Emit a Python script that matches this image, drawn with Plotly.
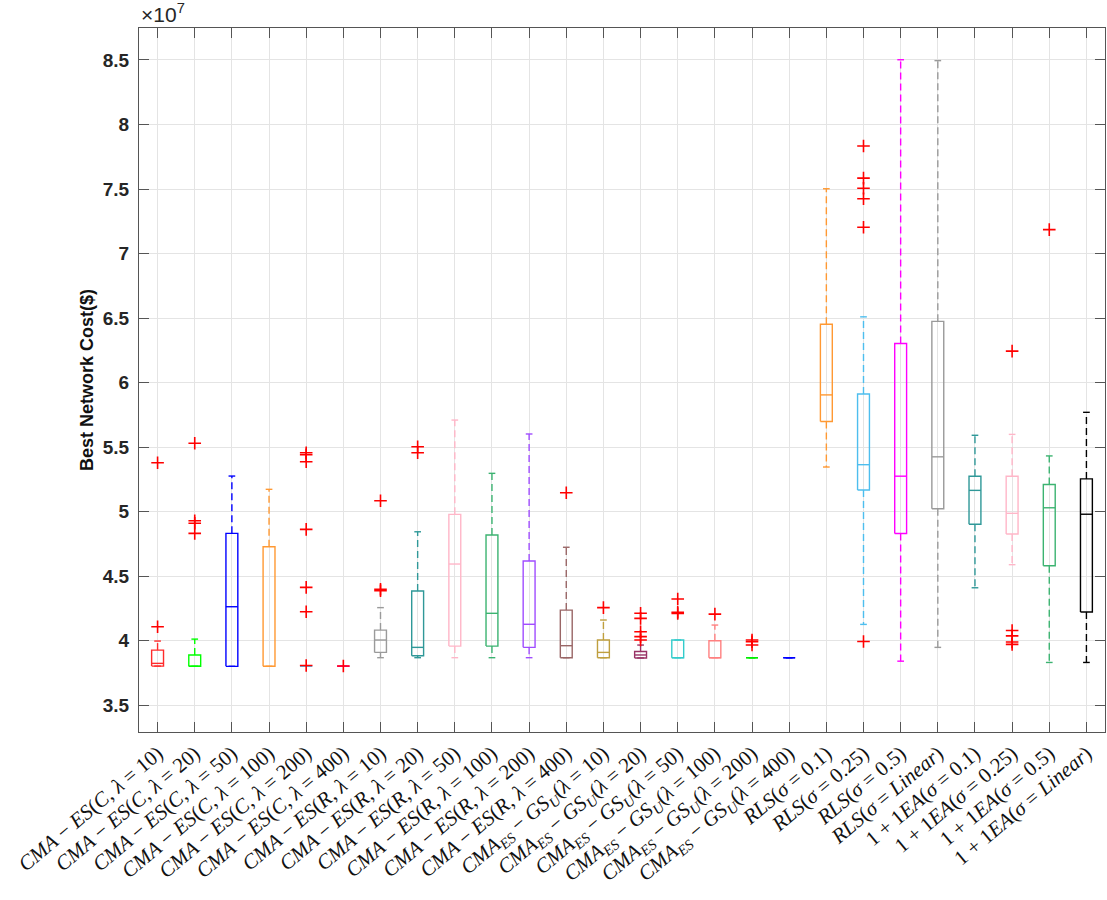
import plotly.graph_objects as go

# ---------------- data (values in units of 1e7 $) ----------------
labels = [
    "<i>CMA</i> − <i>ES</i>(<i>C</i>, <i>λ</i> = 10)",
    "<i>CMA</i> − <i>ES</i>(<i>C</i>, <i>λ</i> = 20)",
    "<i>CMA</i> − <i>ES</i>(<i>C</i>, <i>λ</i> = 50)",
    "<i>CMA</i> − <i>ES</i>(<i>C</i>, <i>λ</i> = 100)",
    "<i>CMA</i> − <i>ES</i>(<i>C</i>, <i>λ</i> = 200)",
    "<i>CMA</i> − <i>ES</i>(<i>C</i>, <i>λ</i> = 400)",
    "<i>CMA</i> − <i>ES</i>(<i>R</i>, <i>λ</i> = 10)",
    "<i>CMA</i> − <i>ES</i>(<i>R</i>, <i>λ</i> = 20)",
    "<i>CMA</i> − <i>ES</i>(<i>R</i>, <i>λ</i> = 50)",
    "<i>CMA</i> − <i>ES</i>(<i>R</i>, <i>λ</i> = 100)",
    "<i>CMA</i> − <i>ES</i>(<i>R</i>, <i>λ</i> = 200)",
    "<i>CMA</i> − <i>ES</i>(<i>R</i>, <i>λ</i> = 400)",
    "<i>CMA</i><sub><i>ES</i></sub> − <i>GS</i><sub><i>U</i></sub>(<i>λ</i> = 10)",
    "<i>CMA</i><sub><i>ES</i></sub> − <i>GS</i><sub><i>U</i></sub>(<i>λ</i> = 20)",
    "<i>CMA</i><sub><i>ES</i></sub> − <i>GS</i><sub><i>U</i></sub>(<i>λ</i> = 50)",
    "<i>CMA</i><sub><i>ES</i></sub> − <i>GS</i><sub><i>U</i></sub>(<i>λ</i> = 100)",
    "<i>CMA</i><sub><i>ES</i></sub> − <i>GS</i><sub><i>U</i></sub>(<i>λ</i> = 200)",
    "<i>CMA</i><sub><i>ES</i></sub> − <i>GS</i><sub><i>U</i></sub>(<i>λ</i> = 400)",
    "<i>RLS</i>(<i>σ</i> = 0.1)",
    "<i>RLS</i>(<i>σ</i> = 0.25)",
    "<i>RLS</i>(<i>σ</i> = 0.5)",
    "<i>RLS</i>(<i>σ</i> = <i>Linear</i>)",
    "1 + 1<i>EA</i>(<i>σ</i> = 0.1)",
    "1 + 1<i>EA</i>(<i>σ</i> = 0.25)",
    "1 + 1<i>EA</i>(<i>σ</i> = 0.5)",
    "1 + 1<i>EA</i>(<i>σ</i> = <i>Linear</i>)",
]

q1 = [3.802, 3.800, 3.800, 3.800, 3.800, 3.800,
      3.908, 3.882, 3.957, 3.957, 3.947, 3.867,
      3.867, 3.865, 3.867, 3.867, 3.867, 3.867,
      5.698, 5.167, 4.830, 5.022,
      4.901, 4.826, 4.580, 4.221]
medians = [3.823, 3.802, 4.262, 3.800, 3.800, 3.800,
           4.004, 3.947, 4.593, 4.211, 4.126, 3.960,
           3.908, 3.888, 3.867, 3.867, 3.867, 3.867,
           5.904, 5.363, 5.274, 5.424,
           5.164, 4.986, 5.029, 4.979]
q3 = [3.926, 3.888, 4.831, 4.727, 3.800, 3.800,
      4.081, 4.384, 4.978, 4.818, 4.616, 4.236,
      4.004, 3.915, 4.004, 3.998, 3.867, 3.867,
      6.452, 5.911, 6.303, 6.474,
      5.274, 5.274, 5.209, 5.253]
lower_whisker = [3.802, 3.800, 3.800, 3.800, 3.800, 3.800,
                 3.867, 3.867, 3.867, 3.867, 3.867, 3.867,
                 3.867, 3.865, 3.867, 3.867, 3.867, 3.867,
                 5.345, 4.125, 3.840, 3.947,
                 4.409, 4.588, 3.830, 3.830]
upper_whisker = [3.996, 4.011, 5.275, 5.172, 3.800, 3.800,
                 4.255, 4.843, 5.709, 5.296, 5.601, 4.723,
                 4.159, 3.965, 4.004, 4.120, 3.867, 3.867,
                 7.502, 6.509, 8.502, 8.495,
                 5.591, 5.598, 5.431, 5.769]
outliers = [
    [4.107, 5.378],
    [4.831, 4.909, 4.929, 5.529],
    [],
    [],
    [3.806, 4.223, 4.412, 4.862, 5.386, 5.440, 5.456],
    [3.803],
    [4.386, 4.397, 5.084],
    [5.456, 5.502],
    [],
    [],
    [],
    [5.146],
    [4.255],
    [4.004, 4.030, 4.068, 4.172, 4.211],
    [4.210, 4.219, 4.322],
    [4.205],
    [3.965, 3.990, 4.004],
    [],
    [],
    [3.993, 7.203, 7.424, 7.506, 7.584, 7.833],
    [],
    [],
    [],
    [3.970, 3.989, 4.036, 4.078, 6.243],
    [7.185],
    [],
]

# ---------------- styles ----------------
box_colors = ["#ff2b2b", "#00ff00", "#0000ff", "#ff9933", "#4dbeee", "#ff00ff",
              "#9a9a9a", "#2f9898", "#ffb6c8", "#3cb371", "#a04dff", "#996666",
              "#bf9f3f", "#993366", "#33cccc", "#ff8080", "#00ee00", "#0000ff",
              "#ff9933", "#4dbeee", "#ff00ff", "#9a9a9a",
              "#2f9898", "#ffb6c8", "#3cb371", "#000000"]

BOX_HALF = 0.16
CAP_HALF = 0.09

fig = go.Figure()

for i in range(len(labels)):
    x = i + 1
    c = box_colors[i]
    # box + median + caps (solid)
    xs = [x - BOX_HALF, x + BOX_HALF, x + BOX_HALF, x - BOX_HALF, x - BOX_HALF, None,
          x - BOX_HALF, x + BOX_HALF, None,
          x - CAP_HALF, x + CAP_HALF, None,
          x - CAP_HALF, x + CAP_HALF]
    ys = [q1[i], q1[i], q3[i], q3[i], q1[i], None,
          medians[i], medians[i], None,
          upper_whisker[i], upper_whisker[i], None,
          lower_whisker[i], lower_whisker[i]]
    fig.add_trace(go.Scatter(x=xs, y=ys, mode="lines",
                             line=dict(color=c, width=1.4),
                             hoverinfo="skip", showlegend=False))
    # whiskers (dashed)
    fig.add_trace(go.Scatter(x=[x, x, None, x, x],
                             y=[q3[i], upper_whisker[i], None, q1[i], lower_whisker[i]],
                             mode="lines",
                             line=dict(color=c, width=1.4, dash="7px,4px"),
                             hoverinfo="skip", showlegend=False))
    # outliers
    if outliers[i]:
        fig.add_trace(go.Scatter(x=[x] * len(outliers[i]), y=outliers[i], mode="markers",
                                 marker=dict(symbol="cross-thin", size=9,
                                             line=dict(color="#ff0000", width=1.6)),
                                 hoverinfo="skip", showlegend=False))

axis_col = "#555555"
fig.update_layout(
    width=1107, height=900,
    margin=dict(l=139, r=2, t=28, b=168),
    paper_bgcolor="white", plot_bgcolor="white",
    showlegend=False,
)
fig.update_xaxes(
    range=[0.5, 26.5],
    tickmode="array", tickvals=list(range(1, len(labels) + 1)), ticktext=labels,
    tickangle=-40,
    tickfont=dict(family="Liberation Serif", size=21, color="#111111"),
    showgrid=True, gridcolor="#e4e4e4", gridwidth=1.2,
    showline=True, linecolor=axis_col, linewidth=1.2, mirror="ticks",
    ticks="inside", ticklen=10, tickcolor=axis_col,
    zeroline=False, automargin=False,
)
fig.update_yaxes(
    range=[3.291, 8.748],
    tickmode="array",
    tickvals=[3.5, 4, 4.5, 5, 5.5, 6, 6.5, 7, 7.5, 8, 8.5],
    ticktext=["3.5", "4", "4.5", "5", "5.5", "6", "6.5", "7", "7.5", "8", "8.5"],
    tickfont=dict(family="Liberation Sans", size=19, color="#262626", weight="bold"),
    ticklabelstandoff=5,
    title=dict(text="Best Network Cost($)", standoff=4,
               font=dict(family="Liberation Sans", size=18, color="#111111", weight="bold")),
    showgrid=True, gridcolor="#e4e4e4", gridwidth=1.2,
    showline=True, linecolor=axis_col, linewidth=1.2, mirror="ticks",
    ticks="inside", ticklen=10, tickcolor=axis_col,
    zeroline=False, automargin=False,
)
fig.add_annotation(
    xref="paper", yref="paper", x=0, y=1, xanchor="left", yanchor="bottom",
    yshift=0, showarrow=False,
    text="×10<sup>7</sup>",
    font=dict(family="Liberation Sans", size=21, color="#262626"),
)

fig.write_html(
    "out.html",
    config={"displayModeBar": False},
    post_script="document.body.style.margin='0';document.body.style.overflow='hidden';",
)
